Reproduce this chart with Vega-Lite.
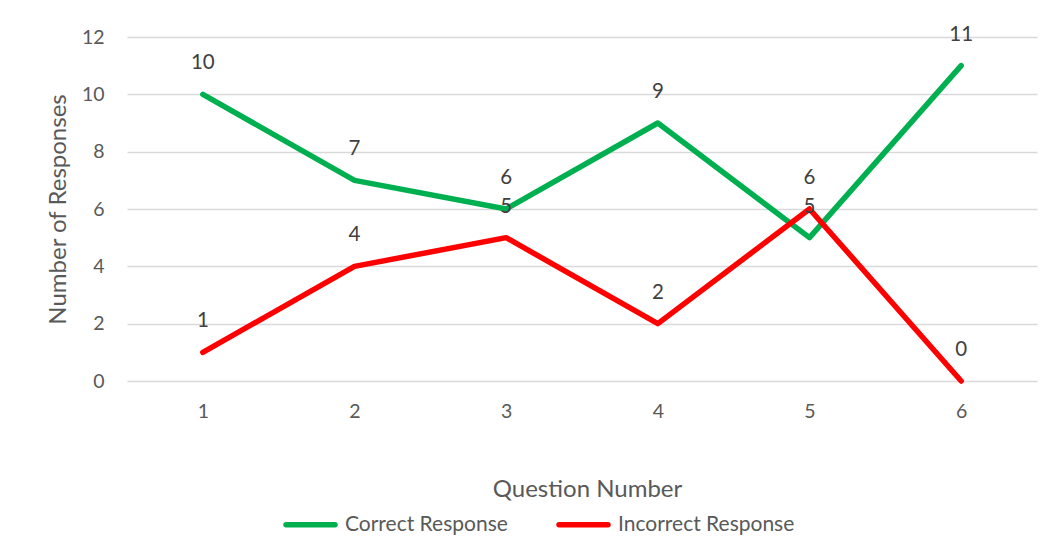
{
  "$schema": "https://vega.github.io/schema/vega-lite/v6.json",
  "autosize": {"type": "none"},
  "width": 910,
  "height": 344,
  "padding": {"left": 127, "top": 37, "right": 17, "bottom": 175},
  "background": "white",
  "config": {
    "view": {"stroke": null},
    "font": "Lato",
    "axis": {"labelFont": "Lato", "titleFont": "Lato"}
  },
  "data": {
    "values": [
      {"q": "1", "series": "Correct Response", "value": 10},
      {"q": "2", "series": "Correct Response", "value": 7},
      {"q": "3", "series": "Correct Response", "value": 6},
      {"q": "4", "series": "Correct Response", "value": 9},
      {"q": "5", "series": "Correct Response", "value": 5},
      {"q": "6", "series": "Correct Response", "value": 11},
      {"q": "1", "series": "Incorrect Response", "value": 1},
      {"q": "2", "series": "Incorrect Response", "value": 4},
      {"q": "3", "series": "Incorrect Response", "value": 5},
      {"q": "4", "series": "Incorrect Response", "value": 2},
      {"q": "5", "series": "Incorrect Response", "value": 6},
      {"q": "6", "series": "Incorrect Response", "value": 0}
    ]
  },
  "encoding": {
    "x": {
      "field": "q",
      "type": "ordinal",
      "scale": {"type": "point", "padding": 0.5},
      "axis": {
        "title": "Question Number",
        "labelAngle": 0,
        "labelFontSize": 19.5,
        "labelColor": "#595959",
        "labelPadding": 30,
        "labelBaseline": "middle",
        "ticks": false,
        "tickSize": 0,
        "domain": false,
        "grid": false,
        "titleFontSize": 24,
        "titleFontWeight": "normal",
        "titleColor": "#595959",
        "titleBaseline": "middle",
        "titleX": 460,
        "titleY": 108
      }
    },
    "y": {
      "field": "value",
      "type": "quantitative",
      "scale": {"domain": [0, 12], "nice": false},
      "axis": {
        "title": "Number of Responses",
        "values": [0, 2, 4, 6, 8, 10, 12],
        "labelFontSize": 19.5,
        "labelColor": "#595959",
        "labelPadding": 23,
        "ticks": false,
        "tickSize": 0,
        "domain": false,
        "grid": true,
        "gridColor": "#D9D9D9",
        "gridWidth": 1.5,
        "titleFontSize": 24,
        "titleFontWeight": "normal",
        "titleColor": "#595959",
        "titleAngle": -90,
        "titleAlign": "center",
        "titleBaseline": "middle",
        "titleX": -69,
        "titleY": 172
      }
    }
  },
  "layer": [
    {
      "mark": {"type": "line", "strokeWidth": 5.5, "strokeCap": "round", "strokeJoin": "round"},
      "encoding": {
        "color": {
          "field": "series",
          "type": "nominal",
          "scale": {"domain": ["Correct Response", "Incorrect Response"], "range": ["#00B050", "#FF0000"]},
          "legend": {
            "title": null,
            "orient": "none",
            "direction": "horizontal",
            "legendX": 156,
            "legendY": 460,
            "symbolType": "stroke",
            "symbolSize": 2400,
            "symbolStrokeWidth": 5.5,
            "labelFontSize": 21,
            "labelColor": "#595959",
            "labelOffset": 7,
            "labelLimit": 400,
            "columnPadding": 40,
            "labelFont": "Lato",
            "encode": {"symbols": {"update": {"strokeCap": {"value": "round"}}}}
          }
        }
      }
    },
    {
      "mark": {"type": "text", "dy": -31, "fontSize": 20.5, "color": "#404040", "align": "center", "baseline": "middle", "font": "Lato"},
      "encoding": {
        "text": {"field": "value", "type": "quantitative"},
        "detail": {"field": "series", "type": "nominal"}
      }
    }
  ]
}
